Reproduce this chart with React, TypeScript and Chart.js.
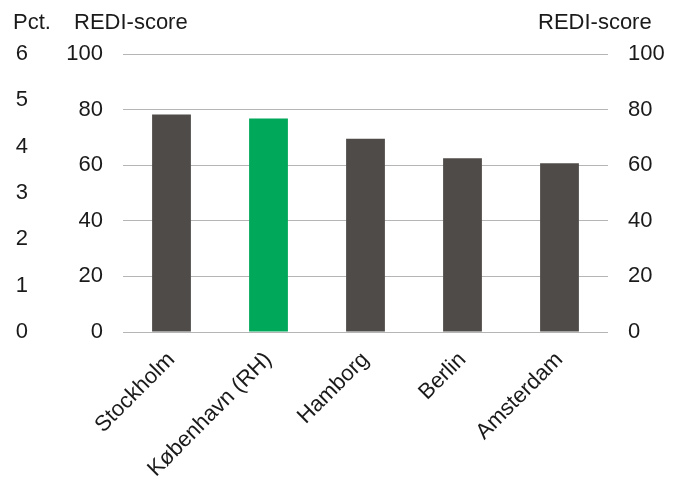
import React, { useEffect, useRef } from "react";
import { Chart, registerables } from "chart.js";

Chart.register(...registerables);

const categories = ["Stockholm", "København (RH)", "Hamborg", "Berlin", "Amsterdam"];
const rediScores = [78.2, 76.8, 69.5, 62.5, 60.7];
const barColors = ["#4f4b48", "#00a85a", "#4f4b48", "#4f4b48", "#4f4b48"];
const pctTitle = "Pct.";
const rediTitle = "REDI-score";

const FONT = "'Liberation Sans', Arial, sans-serif";
const FS = 22;

const titlesPlugin = {
  id: "axisTitles",
  afterDraw(chart: any) {
    const ctx = chart.ctx;
    ctx.save();
    ctx.font = `${FS}px ${FONT}`;
    ctx.fillStyle = "#1a1a1a";
    ctx.textBaseline = "middle";
    ctx.textAlign = "left";
    ctx.fillText(pctTitle, 13, 23);
    ctx.fillText(rediTitle, 74, 23);
    ctx.fillText(rediTitle, 538, 23);
    ctx.restore();
  },
};

export default function App() {
  const ref = useRef<HTMLCanvasElement>(null);
  useEffect(() => {
    if (!ref.current) return;
    const tickFont = { family: FONT, size: FS };
    const chart = new Chart(ref.current, {
      type: "bar",
      data: {
        labels: categories,
        datasets: [
          {
            data: rediScores,
            backgroundColor: barColors,
            yAxisID: "y",
            barPercentage: 0.4,
            categoryPercentage: 1,
          },
        ],
      },
      plugins: [titlesPlugin],
      options: {
        responsive: false,
        animation: false,
        layout: { padding: { top: 54, left: 0, right: 0, bottom: 0 } },
        plugins: { legend: { display: false }, tooltip: { enabled: false } },
        scales: {
          x: {
            grid: { display: false, drawTicks: false },
            border: { display: false },
            ticks: {
              font: tickFont,
              color: "#1a1a1a",
              minRotation: 45,
              maxRotation: 45,
              padding: 15,
            },
            afterFit(scale: any) {
              scale.height = 153;
            },
          },
          yPct: {
            type: "linear",
            position: "left",
            display: true,
            weight: 10,
            min: 0,
            max: 6,
            grid: { display: false, drawTicks: false },
            border: { display: false },
            ticks: { stepSize: 1, font: tickFont, color: "#1a1a1a", padding: 7 },
            afterFit(scale: any) {
              scale.width = 35;
            },
          },
          y: {
            type: "linear",
            position: "left",
            weight: 0,
            min: 0,
            max: 100,
            grid: { color: "#b5b5b5", lineWidth: 1, drawTicks: false },
            border: { display: false },
            ticks: { stepSize: 20, font: tickFont, color: "#1a1a1a", padding: 20 },
            afterFit(scale: any) {
              scale.width = 88;
            },
          },
          y2: {
            type: "linear",
            position: "right",
            display: true,
            min: 0,
            max: 100,
            grid: { display: false, drawTicks: false },
            border: { display: false },
            ticks: { stepSize: 20, font: tickFont, color: "#1a1a1a", padding: 20 },
            afterFit(scale: any) {
              scale.width = 72;
            },
          },
        },
      },
    });
    return () => chart.destroy();
  }, []);
  return (
    <div style={{ position: "fixed", left: 0, top: 0, width: 680, height: 485, background: "#fff" }}>
      <canvas ref={ref} width={680} height={485} style={{ display: "block" }} />
    </div>
  );
}
